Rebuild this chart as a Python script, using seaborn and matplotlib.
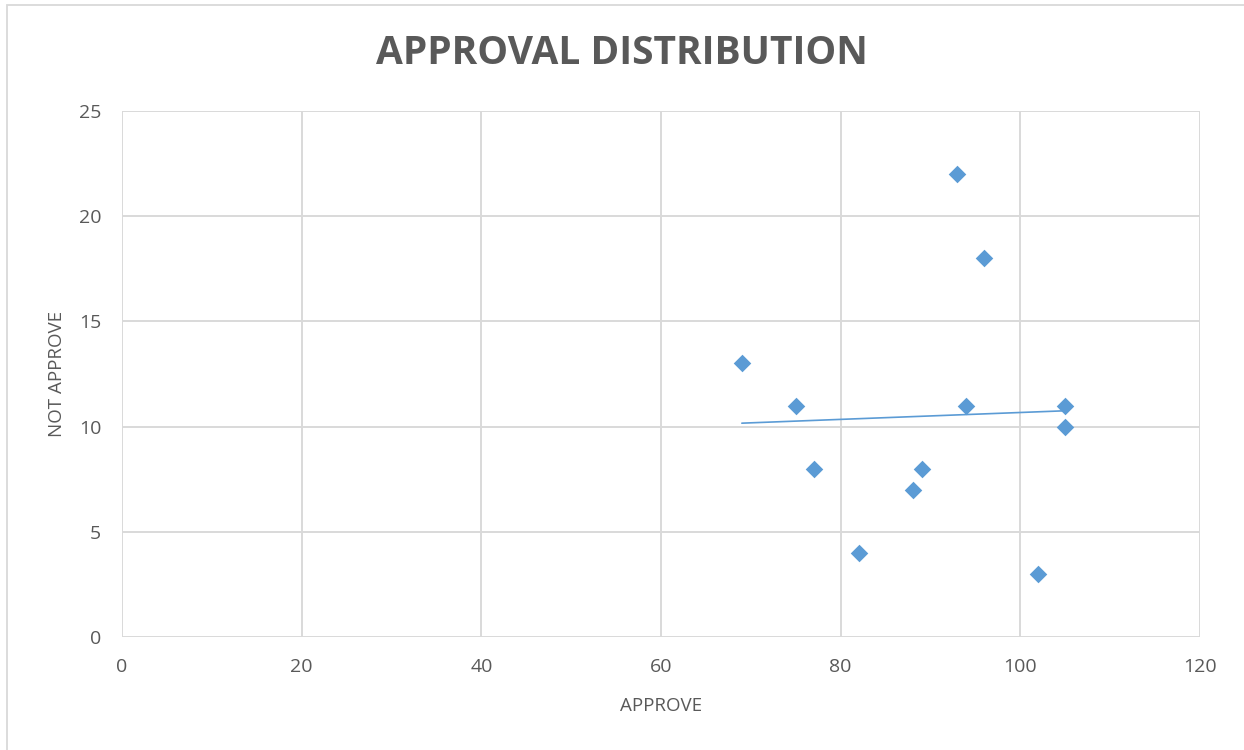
import matplotlib
matplotlib.use("Agg")
import matplotlib.pyplot as plt
import seaborn as sns
import pandas as pd
from matplotlib.patches import Rectangle

approve = [69, 75, 77, 82, 88, 89, 93, 94, 96, 105, 105, 102]
not_approve = [13, 11, 8, 4, 7, 8, 22, 11, 18, 11, 10, 3]
x_ticks = [0, 20, 40, 60, 80, 100, 120]
y_ticks = [0, 5, 10, 15, 20, 25]

df = pd.DataFrame({"APPROVE": approve, "NOT APPROVE": not_approve})

sns.set_theme(style="white")
plt.rcParams['font.family'] = ['Open Sans', 'DejaVu Sans']

fig = plt.figure(figsize=(12.44, 7.5), dpi=100)
ax = fig.add_axes([122/1244, 113/750, 1078/1244, 526/750])

blue = "#5B9BD5"
grey_txt = "#595959"
grid_c = "#D9D9D9"

sns.regplot(data=df, x="APPROVE", y="NOT APPROVE", ax=ax, ci=None, marker="D",
            scatter_kws=dict(s=80, color=blue, alpha=1, linewidths=0, zorder=3),
            line_kws=dict(color=blue, linewidth=1.2, zorder=2))

ax.set_xlim(0, 120)
ax.set_ylim(0, 25)
ax.set_xticks(x_ticks)
ax.set_yticks(y_ticks)
ax.grid(True, color=grid_c, linewidth=1.4)
ax.set_axisbelow(True)
for s in ax.spines.values():
    s.set_visible(False)
ax.tick_params(axis="both", length=0, labelsize=14, colors=grey_txt)
ax.tick_params(axis="x", pad=15)
ax.tick_params(axis="y", pad=15)
ax.set_xlabel("APPROVE", fontsize=13.5, color=grey_txt, labelpad=15)
ax.set_ylabel("NOT APPROVE", fontsize=13.5, color=grey_txt, labelpad=9)

fig.text(0.5, 1 - 54/750, "APPROVAL DISTRIBUTION", ha="center", va="center",
         fontsize=28, fontweight="bold", color=grey_txt)

fig.patches.append(Rectangle((7/1244, -0.1), 1.2, 1 - 5/750 + 0.1,
                             transform=fig.transFigure, fill=False,
                             edgecolor="#D9D9D9", linewidth=1.3))

fig.savefig("out.png", dpi=100)
